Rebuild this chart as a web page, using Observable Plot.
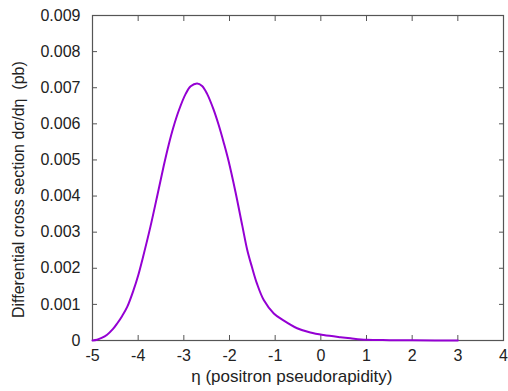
<!DOCTYPE html>
<html>
<head>
<meta charset="utf-8">
<script src="https://cdn.jsdelivr.net/npm/d3@7"></script>
<script src="https://cdn.jsdelivr.net/npm/@observablehq/plot@0.6"></script>
<style>
  html, body { margin: 0; padding: 0; background: white; }
  svg { font-family: "Liberation Sans", Arial, sans-serif; }
</style>
</head>
<body>
<div id="chart"></div>
<script>
const eta = [-5.0, -4.9, -4.8, -4.68, -4.55, -4.46, -4.35, -4.24, -4.1, -4.0, -3.9, -3.73, -3.57, -3.44, -3.33, -3.23, -3.11, -2.96, -2.85, -2.71, -2.6, -2.49, -2.35, -2.24, -2.12, -2.02, -1.87, -1.72, -1.61, -1.51, -1.4, -1.25, -1.03, -0.81, -0.52, -0.23, 0.06, 0.43, 0.65, 1.0, 1.5, 2.0, 2.5, 3.0];
const dsigma = [0, 0.00002, 0.00007, 0.00016, 0.00032, 0.00047, 0.00068, 0.00093, 0.0014, 0.0018, 0.00228, 0.00316, 0.00408, 0.00484, 0.00543, 0.0059, 0.00637, 0.00683, 0.00704, 0.00712, 0.00705, 0.00683, 0.0064, 0.00598, 0.00545, 0.00497, 0.00412, 0.00318, 0.0025, 0.00204, 0.00158, 0.00112, 0.00075, 0.00055, 0.00034, 0.00022, 0.00015, 0.00009, 0.00006, 0.00002, 0.00001, 0.000005, 0.000002, 0];
const xTicks = [-5, -4, -3, -2, -1, 0, 1, 2, 3, 4];
const yTicks = [0, 0.001, 0.002, 0.003, 0.004, 0.005, 0.006, 0.007, 0.008, 0.009];
const yTickLabels = ["0", "0.001", "0.002", "0.003", "0.004", "0.005", "0.006", "0.007", "0.008", "0.009"];
const xTitle = "η (positron pseudorapidity)";
const yTitle = "Differential cross section dσ/dη  (pb)";

const data = eta.map((x, i) => ({x, y: dsigma[i]}));
const frameColor = "#555";
const textColor = "#222";

const chart = Plot.plot({
  width: 508,
  height: 391,
  marginLeft: 92,
  marginRight: 5,
  marginTop: 15,
  marginBottom: 51,
  style: {fontSize: "16px", fontFamily: "'Liberation Sans', Arial, sans-serif", color: textColor, background: "white"},
  x: {domain: [-5, 4]},
  y: {domain: [0, 0.009]},
  marks: [
    Plot.axisX({ticks: xTicks, tickSize: 0, tickPadding: 9, label: null, tickFormat: d => String(d), fill: textColor}),
    Plot.axisX({ticks: xTicks, tickSize: -5, text: null, label: null, stroke: frameColor}),
    Plot.axisX({ticks: xTicks, anchor: "top", tickSize: -5, text: null, label: null, stroke: frameColor}),
    Plot.axisY({ticks: yTicks, tickSize: 0, tickPadding: 12, label: null, tickFormat: d => yTickLabels[yTicks.indexOf(d)], fill: textColor}),
    Plot.axisY({ticks: yTicks, tickSize: -5, text: null, label: null, stroke: frameColor}),
    Plot.axisY({ticks: yTicks, anchor: "right", tickSize: -5, text: null, label: null, stroke: frameColor}),
    Plot.frame({stroke: frameColor, strokeWidth: 1.2}),
    Plot.line(data, {x: "x", y: "y", stroke: "#9400D3", strokeWidth: 2, curve: "catmull-rom"}),
    Plot.text([xTitle], {frameAnchor: "bottom", textAnchor: "end", lineAnchor: "middle", dx: 94.5, dy: 36, fill: textColor, fontSize: 17}),
    Plot.text([yTitle], {frameAnchor: "left", textAnchor: "start", lineAnchor: "middle", rotate: -90, dx: -74, dy: 140, fill: textColor, fontSize: 16})
  ]
});
document.getElementById("chart").appendChild(chart);
</script>
</body>
</html>
